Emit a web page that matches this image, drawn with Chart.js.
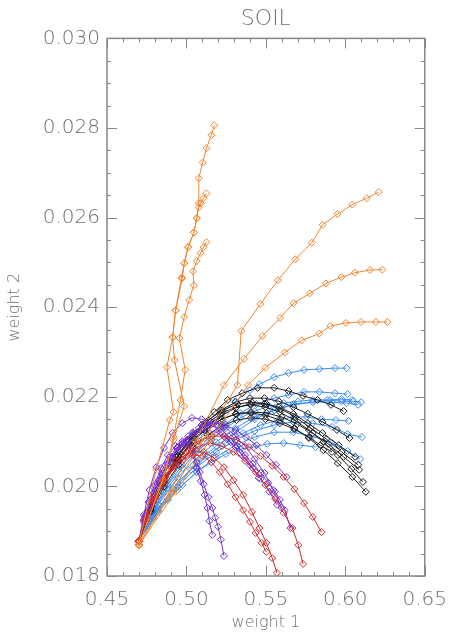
<!DOCTYPE html>
<html>
<head>
<meta charset="utf-8">
<script src="https://cdn.jsdelivr.net/npm/chart.js@4.4.1/dist/chart.umd.min.js"></script>
<style>
  html, body { margin: 0; padding: 0; background: #fff; }
</style>
</head>
<body>
<canvas id="soil" width="459" height="633"></canvas>
<script>
// axis ticks
const xTicks = [0.45,0.46,0.47,0.48,0.49,0.50,0.51,0.52,0.53,0.54,0.55,0.56,0.57,0.58,0.59,0.60,0.61,0.62,0.63,0.64,0.65];
const xLabelTicks = [0.45,0.50,0.55,0.60,0.65];
const yTicks = [0.018,0.0185,0.019,0.0195,0.020,0.0205,0.021,0.0215,0.022,0.0225,0.023,0.0235,0.024,0.0245,0.025,0.0255,0.026,0.0265,0.027,0.0275,0.028,0.0285,0.029,0.0295,0.030];
const yLabelTicks = [0.018,0.020,0.022,0.024,0.026,0.028,0.030];

// orange runs
const orange1 = [[0.4701,0.01874],[0.4810,0.02037],[0.4895,0.02148],[0.4919,0.02166],[0.4877,0.02266],[0.4913,0.02333],[0.4932,0.02393],[0.4968,0.02465],[0.4986,0.02498],[0.5011,0.02534],[0.5047,0.02567],[0.5065,0.02599],[0.5078,0.02632],[0.5078,0.02688],[0.5102,0.02723],[0.5126,0.02755],[0.5157,0.02784],[0.5175,0.02806]];
const orange2 = [[0.4701,0.01870],[0.4853,0.02014],[0.4919,0.02104],[0.4986,0.02179],[0.4925,0.02282],[0.4913,0.02333],[0.4932,0.02393],[0.4974,0.02465],[0.4986,0.02498],[0.5011,0.02534],[0.5047,0.02567],[0.5065,0.02599],[0.5078,0.02623],[0.5090,0.02632],[0.5108,0.02643],[0.5126,0.02654]];
const orange3 = [[0.4701,0.01868],[0.4871,0.02037],[0.4919,0.02110],[0.4962,0.02193],[0.4992,0.02260],[0.4956,0.02331],[0.4986,0.02378],[0.5017,0.02416],[0.5047,0.02449],[0.5041,0.02480],[0.5065,0.02503],[0.5090,0.02521],[0.5108,0.02534],[0.5126,0.02545]];
const orange4 = [[0.4701,0.01869],[0.4907,0.01988],[0.5114,0.02108],[0.5321,0.02226],[0.5345,0.02347],[0.5465,0.02407],[0.5576,0.02460],[0.5685,0.02507],[0.5789,0.02544],[0.5857,0.02584],[0.5951,0.02608],[0.6044,0.02629],[0.6135,0.02643],[0.6210,0.02657]];
const orange5 = [[0.4701,0.01869],[0.4877,0.01976],[0.5059,0.02101],[0.5236,0.02226],[0.5363,0.02285],[0.5479,0.02336],[0.5590,0.02376],[0.5675,0.02409],[0.5777,0.02431],[0.5878,0.02453],[0.5975,0.02467],[0.6060,0.02477],[0.6155,0.02483],[0.6233,0.02484]];
const orange6 = [[0.4701,0.01869],[0.4932,0.01988],[0.5157,0.02108],[0.5388,0.02226],[0.5497,0.02265],[0.5619,0.02299],[0.5726,0.02326],[0.5836,0.02341],[0.5906,0.02358],[0.6003,0.02365],[0.6099,0.02367],[0.6192,0.02367],[0.6265,0.02367]];

// red runs
const red1 = [[0.4701,0.01878],[0.4743,0.01925],[0.4792,0.01970],[0.4847,0.02008],[0.4907,0.02041],[0.4974,0.02066],[0.5041,0.02077],[0.5108,0.02077],[0.5175,0.02063],[0.5236,0.02043],[0.5296,0.02014],[0.5357,0.01981],[0.5412,0.01943],[0.5460,0.01907],[0.5503,0.01874],[0.5540,0.01840],[0.5570,0.01807]];
const red2 = [[0.4701,0.01878],[0.4749,0.01930],[0.4804,0.01974],[0.4865,0.02014],[0.4932,0.02048],[0.5005,0.02075],[0.5078,0.02090],[0.5150,0.02097],[0.5223,0.02090],[0.5296,0.02077],[0.5369,0.02057],[0.5436,0.02032],[0.5497,0.02003],[0.5558,0.01972],[0.5612,0.01941],[0.5667,0.01907],[0.5704,0.01869],[0.5734,0.01827]];
const red3 = [[0.4701,0.01878],[0.4749,0.01930],[0.4804,0.01979],[0.4865,0.02021],[0.4932,0.02057],[0.5005,0.02083],[0.5078,0.02101],[0.5157,0.02112],[0.5236,0.02112],[0.5315,0.02104],[0.5394,0.02088],[0.5467,0.02068],[0.5540,0.02046],[0.5612,0.02021],[0.5679,0.01994],[0.5740,0.01963],[0.5795,0.01932],[0.5850,0.01898]];
const red4 = [[0.4701,0.01878],[0.4743,0.01923],[0.4792,0.01965],[0.4847,0.02003],[0.4907,0.02034],[0.4974,0.02059],[0.5041,0.02070],[0.5102,0.02068],[0.5157,0.02054],[0.5211,0.02032],[0.5260,0.02005],[0.5309,0.01976],[0.5357,0.01947],[0.5400,0.01921],[0.5436,0.01896],[0.5473,0.01874],[0.5503,0.01854]];

// purple runs
const purple1 = [[0.4701,0.01878],[0.4731,0.01921],[0.4767,0.01963],[0.4804,0.02001],[0.4847,0.02037],[0.4895,0.02066],[0.4944,0.02088],[0.4992,0.02097],[0.5035,0.02081],[0.5065,0.02054],[0.5084,0.02032],[0.5108,0.02005],[0.5138,0.01976],[0.5163,0.01952],[0.5181,0.01930],[0.5199,0.01910],[0.5217,0.01881],[0.5236,0.01845]];
const purple2 = [[0.4701,0.01878],[0.4731,0.01925],[0.4761,0.01965],[0.4798,0.02003],[0.4840,0.02041],[0.4883,0.02070],[0.4932,0.02090],[0.4974,0.02101],[0.5005,0.02099],[0.5041,0.02070],[0.5065,0.02041],[0.5090,0.02012],[0.5114,0.01981],[0.5132,0.01952],[0.5144,0.01923],[0.5163,0.01892]];
const purple3 = [[0.4701,0.01878],[0.4737,0.01930],[0.4780,0.01974],[0.4828,0.02014],[0.4883,0.02052],[0.4944,0.02086],[0.5011,0.02112],[0.5078,0.02130],[0.5144,0.02137],[0.5211,0.02130],[0.5266,0.02112],[0.5321,0.02090],[0.5369,0.02070],[0.5418,0.02050],[0.5467,0.02030],[0.5515,0.02008],[0.5558,0.01988],[0.5588,0.01970],[0.5619,0.01947],[0.5655,0.01907]];
const purple4 = [[0.4701,0.01878],[0.4743,0.01936],[0.4792,0.01985],[0.4847,0.02028],[0.4907,0.02063],[0.4974,0.02095],[0.5041,0.02119],[0.5108,0.02135],[0.5175,0.02141],[0.5242,0.02137],[0.5309,0.02126],[0.5375,0.02110],[0.5442,0.02092],[0.5503,0.02070],[0.5564,0.02048],[0.5631,0.02021]];
const purple5 = [[0.4701,0.01878],[0.4743,0.01934],[0.4792,0.01983],[0.4847,0.02028],[0.4907,0.02066],[0.4974,0.02097],[0.5041,0.02121],[0.5108,0.02137],[0.5175,0.02144],[0.5242,0.02133],[0.5309,0.02112],[0.5369,0.02090],[0.5430,0.02061],[0.5491,0.02030],[0.5546,0.01992],[0.5600,0.01952]];
const purple6 = [[0.4701,0.01878],[0.4737,0.01927],[0.4780,0.01974],[0.4828,0.02014],[0.4883,0.02050],[0.4944,0.02081],[0.5005,0.02104],[0.5065,0.02119],[0.5126,0.02126],[0.5187,0.02121],[0.5248,0.02108],[0.5309,0.02088],[0.5369,0.02063],[0.5418,0.02041],[0.5467,0.02017],[0.5521,0.01988],[0.5570,0.01959]];
const purple7 = [[0.4701,0.01878],[0.4731,0.01936],[0.4767,0.01992],[0.4810,0.02043],[0.4859,0.02086],[0.4913,0.02119],[0.4974,0.02141],[0.5035,0.02153],[0.5096,0.02150],[0.5157,0.02139],[0.5217,0.02121],[0.5278,0.02099],[0.5339,0.02075],[0.5400,0.02048],[0.5455,0.02019]];

// black runs
const black1 = [[0.4701,0.01878],[0.4761,0.01947],[0.4834,0.02010],[0.4913,0.02063],[0.5005,0.02104],[0.5096,0.02137],[0.5175,0.02166],[0.5260,0.02193],[0.5351,0.02208],[0.5448,0.02220],[0.5552,0.02220],[0.5643,0.02213],[0.5734,0.02202],[0.5825,0.02193],[0.5910,0.02182],[0.5989,0.02168]];
const black2 = [[0.4701,0.01878],[0.4774,0.01952],[0.4853,0.02014],[0.4944,0.02068],[0.5035,0.02110],[0.5126,0.02144],[0.5217,0.02170],[0.5309,0.02188],[0.5400,0.02197],[0.5491,0.02197],[0.5582,0.02190],[0.5673,0.02177],[0.5764,0.02162],[0.5856,0.02144],[0.5947,0.02126],[0.6026,0.02108]];
const black3 = [[0.4701,0.01878],[0.4774,0.01947],[0.4853,0.02008],[0.4944,0.02059],[0.5035,0.02101],[0.5126,0.02133],[0.5217,0.02157],[0.5309,0.02175],[0.5400,0.02184],[0.5491,0.02184],[0.5582,0.02177],[0.5673,0.02162],[0.5764,0.02141],[0.5856,0.02119],[0.5959,0.02092],[0.6062,0.02066]];
const black4 = [[0.4701,0.01878],[0.4780,0.01956],[0.4865,0.02021],[0.4956,0.02075],[0.5047,0.02117],[0.5138,0.02148],[0.5229,0.02170],[0.5321,0.02184],[0.5412,0.02188],[0.5503,0.02184],[0.5594,0.02173],[0.5685,0.02155],[0.5783,0.02130],[0.5880,0.02106],[0.5977,0.02077],[0.6081,0.02048]];
const black5 = [[0.4701,0.01878],[0.4761,0.01943],[0.4840,0.02003],[0.4932,0.02054],[0.5023,0.02095],[0.5114,0.02126],[0.5211,0.02148],[0.5309,0.02162],[0.5406,0.02166],[0.5503,0.02164],[0.5600,0.02155],[0.5698,0.02139],[0.5795,0.02119],[0.5892,0.02095],[0.5989,0.02066],[0.6087,0.02037]];
const black6 = [[0.4701,0.01878],[0.4774,0.01952],[0.4859,0.02014],[0.4950,0.02068],[0.5041,0.02110],[0.5132,0.02141],[0.5223,0.02164],[0.5315,0.02177],[0.5406,0.02182],[0.5497,0.02177],[0.5588,0.02166],[0.5679,0.02148],[0.5771,0.02126],[0.5862,0.02099],[0.5953,0.02070],[0.6038,0.02039],[0.6111,0.02010]];
const black7 = [[0.4701,0.01878],[0.4774,0.01947],[0.4859,0.02008],[0.4950,0.02059],[0.5041,0.02101],[0.5132,0.02130],[0.5223,0.02150],[0.5315,0.02162],[0.5406,0.02164],[0.5497,0.02159],[0.5588,0.02148],[0.5679,0.02130],[0.5771,0.02108],[0.5862,0.02081],[0.5953,0.02052],[0.6044,0.02021],[0.6129,0.01988]];
const black8 = [[0.4701,0.01878],[0.4774,0.01943],[0.4859,0.01999],[0.4950,0.02048],[0.5041,0.02086],[0.5132,0.02115],[0.5223,0.02135],[0.5315,0.02148],[0.5406,0.02153],[0.5497,0.02150],[0.5588,0.02141],[0.5679,0.02128],[0.5771,0.02110],[0.5843,0.02092],[0.5916,0.02077]];

// blue runs
const blue1 = [[0.4701,0.01878],[0.4774,0.01936],[0.4853,0.01988],[0.4944,0.02041],[0.5035,0.02086],[0.5126,0.02126],[0.5217,0.02162],[0.5309,0.02190],[0.5400,0.02215],[0.5460,0.02228],[0.5552,0.02244],[0.5643,0.02253],[0.5740,0.02260],[0.5837,0.02262],[0.5935,0.02264],[0.6008,0.02264]];
const blue2 = [[0.4701,0.01878],[0.4792,0.01947],[0.4883,0.02003],[0.4974,0.02048],[0.5065,0.02081],[0.5157,0.02112],[0.5248,0.02139],[0.5339,0.02164],[0.5442,0.02184],[0.5552,0.02197],[0.5643,0.02204],[0.5740,0.02211],[0.5837,0.02211],[0.5935,0.02208],[0.6014,0.02206]];
const blue3 = [[0.4701,0.01878],[0.4792,0.01943],[0.4883,0.01997],[0.4974,0.02041],[0.5065,0.02077],[0.5157,0.02104],[0.5248,0.02130],[0.5339,0.02153],[0.5430,0.02168],[0.5521,0.02179],[0.5612,0.02186],[0.5704,0.02190],[0.5795,0.02193],[0.5886,0.02193],[0.5977,0.02190],[0.6050,0.02190],[0.6099,0.02188]];
const blue4 = [[0.4701,0.01878],[0.4822,0.01952],[0.4944,0.02008],[0.5065,0.02052],[0.5187,0.02090],[0.5309,0.02121],[0.5430,0.02150],[0.5552,0.02170],[0.5673,0.02184],[0.5795,0.02188],[0.5916,0.02188],[0.6008,0.02186],[0.6081,0.02182]];
const blue5 = [[0.4701,0.01878],[0.4810,0.01943],[0.4919,0.01994],[0.5029,0.02037],[0.5138,0.02070],[0.5248,0.02097],[0.5357,0.02119],[0.5467,0.02137],[0.5576,0.02148],[0.5673,0.02155],[0.5758,0.02155],[0.5850,0.02150],[0.5941,0.02148],[0.6020,0.02146]];
const blue6 = [[0.4701,0.01878],[0.4822,0.01947],[0.4944,0.01999],[0.5065,0.02043],[0.5187,0.02077],[0.5309,0.02104],[0.5430,0.02124],[0.5552,0.02137],[0.5673,0.02144],[0.5795,0.02141],[0.5916,0.02133],[0.6014,0.02117],[0.6105,0.02110]];
const blue7 = [[0.4701,0.01878],[0.4822,0.01943],[0.4944,0.01992],[0.5065,0.02032],[0.5187,0.02066],[0.5309,0.02092],[0.5430,0.02110],[0.5552,0.02121],[0.5673,0.02121],[0.5795,0.02112],[0.5916,0.02097],[0.6014,0.02079],[0.6093,0.02061]];
const blue8 = [[0.4701,0.01878],[0.4792,0.01930],[0.4883,0.01970],[0.4974,0.02003],[0.5065,0.02032],[0.5157,0.02054],[0.5248,0.02072],[0.5339,0.02083],[0.5424,0.02088],[0.5509,0.02095],[0.5612,0.02097],[0.5716,0.02092],[0.5813,0.02088]];
const blue9 = [[0.4701,0.01878],[0.4822,0.01959],[0.4944,0.02019],[0.5065,0.02063],[0.5187,0.02099],[0.5309,0.02130],[0.5430,0.02155],[0.5552,0.02170],[0.5673,0.02182],[0.5795,0.02188],[0.5904,0.02193],[0.5977,0.02195],[0.6044,0.02193]];

const ORANGE = '#f0852d';
const RED = '#d22a2a';
const PURPLE = '#7432d0';
const BLACK = '#1e1e1e';
const BLUE = '#3a8cf0';

// first dataset is drawn on top
const groups = [
  [ORANGE, [orange1, orange2, orange3, orange4, orange5, orange6]],
  [RED, [red1, red2, red3, red4]],
  [PURPLE, [purple1, purple2, purple3, purple4, purple5, purple6, purple7]],
  [BLACK, [black1, black2, black3, black4, black5, black6, black7, black8]],
  [BLUE, [blue1, blue2, blue3, blue4, blue5, blue6, blue7, blue8, blue9]]
];

const datasets = [];
groups.forEach(([color, runs]) => {
  runs.forEach(run => {
    datasets.push({
      data: run.map(p => ({x: p[0], y: p[1]})),
      showLine: true,
      borderColor: color,
      borderWidth: 1,
      pointStyle: 'rectRot',
      pointRadius: 3.5,
      pointBorderWidth: 1,
      pointBorderColor: color,
      pointBackgroundColor: 'rgba(0,0,0,0)',
      backgroundColor: 'rgba(0,0,0,0)'
    });
  });
});

const TEXT = '#707070';
const FONT = 'DejaVu Sans, sans-serif';
const near = (list, v) => list.some(m => Math.abs(m - v) < 1e-7);

// frame plus inward tick marks on all four sides
const frameTicks = {
  id: 'frameTicks',
  afterDraw(chart) {
    const {ctx, chartArea: a, scales: {x, y}} = chart;
    ctx.save();
    ctx.strokeStyle = '#888';
    ctx.lineWidth = 1.5;
    ctx.strokeRect(a.left, a.top, a.right - a.left, a.bottom - a.top);
    ctx.lineWidth = 1;
    ctx.beginPath();
    x.ticks.forEach(t => {
      const px = Math.round(x.getPixelForValue(t.value)) + 0.5;
      const len = near(xLabelTicks, t.value) ? 10 : 4;
      ctx.moveTo(px, a.bottom); ctx.lineTo(px, a.bottom - len);
      ctx.moveTo(px, a.top); ctx.lineTo(px, a.top + len);
    });
    y.ticks.forEach(t => {
      const py = Math.round(y.getPixelForValue(t.value)) + 0.5;
      const len = near(yLabelTicks, t.value) ? 10 : 4;
      ctx.moveTo(a.left, py); ctx.lineTo(a.left + len, py);
      ctx.moveTo(a.right, py); ctx.lineTo(a.right - len, py);
    });
    ctx.stroke();
    ctx.restore();
  }
};

new Chart(document.getElementById('soil'), {
  type: 'scatter',
  data: { datasets },
  options: {
    responsive: false,
    animation: false,
    layout: { padding: { top: 0, right: 23, bottom: 0, left: 0 } },
    plugins: {
      legend: { display: false },
      tooltip: { enabled: false },
      title: {
        display: true,
        text: 'SOIL',
        fullSize: false,
        color: TEXT,
        font: { family: FONT, size: 22, weight: '200' },
        padding: { top: 6, bottom: 6 }
      }
    },
    scales: {
      x: {
        type: 'linear',
        min: 0.45,
        max: 0.65,
        afterBuildTicks: s => { s.ticks = xTicks.map(v => ({value: v})); },
        afterFit: s => { s.height = 57; },
        grid: { display: false, drawTicks: false },
        border: { display: false },
        ticks: {
          autoSkip: false,
          maxRotation: 0,
          padding: 12,
          color: TEXT,
          font: { family: FONT, size: 20, weight: '200' },
          callback: v => near(xLabelTicks, v) ? v.toFixed(2) : ''
        },
        title: {
          display: true,
          text: 'weight 1',
          color: TEXT,
          font: { family: FONT, size: 16, weight: '200' },
          padding: { top: 0, bottom: 1 }
        }
      },
      y: {
        type: 'linear',
        min: 0.018,
        max: 0.030,
        afterBuildTicks: s => { s.ticks = yTicks.map(v => ({value: v})); },
        afterFit: s => { s.width = 107; },
        grid: { display: false, drawTicks: false },
        border: { display: false },
        ticks: {
          autoSkip: false,
          padding: 7,
          color: TEXT,
          font: { family: FONT, size: 20, weight: '200' },
          callback: v => near(yLabelTicks, v) ? v.toFixed(3) : ''
        },
        title: {
          display: true,
          text: 'weight 2',
          color: TEXT,
          font: { family: FONT, size: 16, weight: '200' },
          padding: { top: 5, bottom: 0 }
        }
      }
    }
  },
  plugins: [frameTicks]
});
</script>
</body>
</html>
